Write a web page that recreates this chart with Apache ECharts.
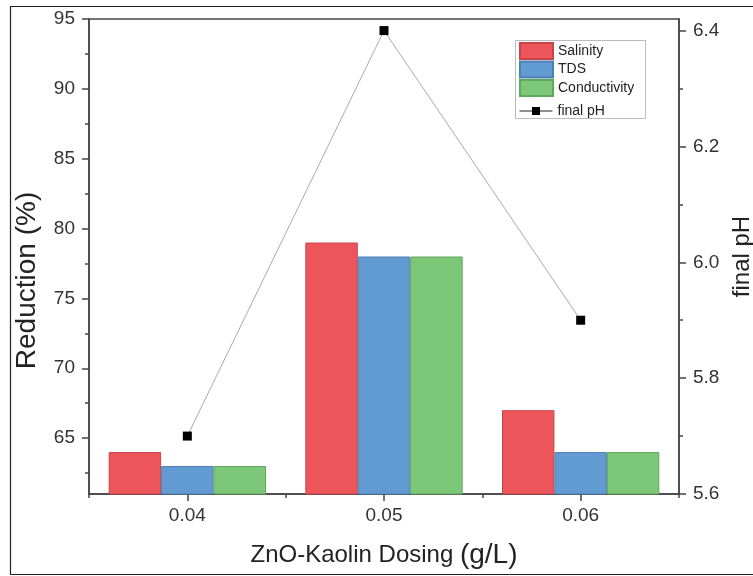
<!DOCTYPE html>
<html>
<head>
<meta charset="utf-8">
<script src="https://cdn.jsdelivr.net/npm/echarts@6/dist/echarts.min.js"></script>
<style>html,body{margin:0;padding:0;background:#fff}#c{width:753px;height:576px}</style>
</head>
<body>
<div id="c"></div>
<script>
var categories = ['0.04', '0.05', '0.06'];
var salinity = [64, 79, 67];
var tds = [63, 78, 64];
var conductivity = [63, 78, 64];
var finalPH = [5.7, 6.4, 5.9];
var leftTicks = [65, 70, 75, 80, 85, 90, 95];
var leftMinor = [62.5, 67.5, 72.5, 77.5, 82.5, 87.5, 92.5];
var rightTicks = [5.6, 5.8, 6.0, 6.2, 6.4];
var rightMinor = [5.7, 5.9, 6.1, 6.3];

var FONT = '"Liberation Sans", Arial, sans-serif';
var AX = '#444';
var chart = echarts.init(document.getElementById('c'), null, {renderer: 'canvas'});

function barSeries(name, data, fill, border) {
  return {
    name: name, type: 'bar', data: data, xAxisIndex: 0, yAxisIndex: 0,
    barGap: '0%', barCategoryGap: '20%',
    itemStyle: {color: fill, borderColor: border, borderWidth: 1}
  };
}

chart.setOption({
  animation: false,
  backgroundColor: '#fff',
  textStyle: {fontFamily: FONT},
  grid: {left: 89, right: 74, top: 19, bottom: 82, show: true, borderColor: AX, borderWidth: 1.5,
    backgroundColor: 'transparent', containLabel: false, outerBoundsMode: 'none'},
  graphic: [
    {type: 'rect', shape: {x: 10.5, y: 6.5, width: 800, height: 568}, style: {fill: 'none', stroke: '#222', lineWidth: 1.2}, silent: true, z: -1},
    {type: 'rect', shape: {x: 515.5, y: 40.5, width: 130, height: 78}, style: {fill: '#fff', stroke: '#bbb', lineWidth: 1}, silent: true, z: 5}
  ],
  legend: [
    {
      data: ['Salinity', 'TDS', 'Conductivity'], orient: 'vertical', left: 519, top: 42, icon: 'rect',
      padding: 0, itemWidth: 33, itemHeight: 16, itemGap: 0.5, selectedMode: false, z: 10,
      textStyle: {fontSize: 14, lineHeight: 16, color: '#222', fontFamily: FONT}
    },
    {
      data: ['final pH'], orient: 'vertical', left: 519, top: 104,
      padding: 0, itemWidth: 33, itemHeight: 10, selectedMode: false, z: 10,
      lineStyle: {color: '#222', width: 1},
      textStyle: {fontSize: 14, lineHeight: 12, color: '#222', fontFamily: FONT}
    }
  ],
  xAxis: [
    {
      type: 'category', data: categories, position: 'bottom',
      name: '{a|ZnO-Kaolin Dosing }{b|(g/L)}', nameLocation: 'middle', nameGap: 47,
      nameTextStyle: {rich: {a: {fontSize: 24, color: '#222', fontFamily: FONT}, b: {fontSize: 28, color: '#222', fontFamily: FONT}}},
      axisLine: {show: true, lineStyle: {color: AX, width: 1.5}},
      axisTick: {show: true, alignWithLabel: true, length: 7, lineStyle: {color: AX, width: 1.5}},
      axisLabel: {fontSize: 19, color: '#333', margin: 12, fontFamily: FONT},
      splitLine: {show: false}
    },
    {
      type: 'category', data: categories, position: 'bottom',
      axisLine: {show: false},
      axisTick: {show: true, alignWithLabel: false, interval: 0, length: 4, lineStyle: {color: AX, width: 1.5}},
      axisLabel: {show: false}, splitLine: {show: false}
    }
  ],
  yAxis: [
    {
      type: 'value', position: 'left', min: 61, max: 95,
      name: 'Reduction (%)', nameLocation: 'middle', nameGap: 48,
      nameTextStyle: {fontSize: 28, color: '#222', fontFamily: FONT, padding: [0, 48, 0, 0]},
      axisLine: {show: true, lineStyle: {color: AX, width: 1.5}},
      axisTick: {show: true, customValues: leftTicks, length: 7, lineStyle: {color: AX, width: 1.5}},
      axisLabel: {customValues: leftTicks, fontSize: 19, color: '#333', margin: 14, fontFamily: FONT},
      splitLine: {show: false}
    },
    {
      type: 'value', position: 'right', min: 5.6, max: 6.42,
      name: 'final pH', nameLocation: 'middle', nameGap: 47, nameRotate: 90,
      nameTextStyle: {fontSize: 24, color: '#222', fontFamily: FONT},
      axisLine: {show: true, lineStyle: {color: AX, width: 1.5}},
      axisTick: {show: true, customValues: rightTicks, length: 7, lineStyle: {color: AX, width: 1.5}},
      axisLabel: {customValues: rightTicks, fontSize: 19, color: '#333', margin: 14, fontFamily: FONT,
        formatter: function (v) { return Number(v).toFixed(1); }},
      splitLine: {show: false}
    },
    {
      type: 'value', position: 'left', min: 61, max: 95,
      axisLine: {show: false},
      axisTick: {show: true, customValues: leftMinor, length: 4, lineStyle: {color: AX, width: 1.5}},
      axisLabel: {show: false}, splitLine: {show: false}
    },
    {
      type: 'value', position: 'right', min: 5.6, max: 6.42,
      axisLine: {show: false},
      axisTick: {show: true, customValues: rightMinor, length: 4, lineStyle: {color: AX, width: 1.5}},
      axisLabel: {show: false}, splitLine: {show: false}
    }
  ],
  series: [
    barSeries('Salinity', salinity, '#ec555a', '#c94448'),
    barSeries('TDS', tds, '#629bd2', '#4d7fb3'),
    barSeries('Conductivity', conductivity, '#7dc878', '#5fa85c'),
    {
      name: 'final pH', type: 'line', data: finalPH, xAxisIndex: 0, yAxisIndex: 1,
      symbol: 'rect', symbolSize: 9, z: 5,
      lineStyle: {color: '#aaa', width: 1},
      itemStyle: {color: '#000'}
    }
  ]
});
</script>
</body>
</html>
